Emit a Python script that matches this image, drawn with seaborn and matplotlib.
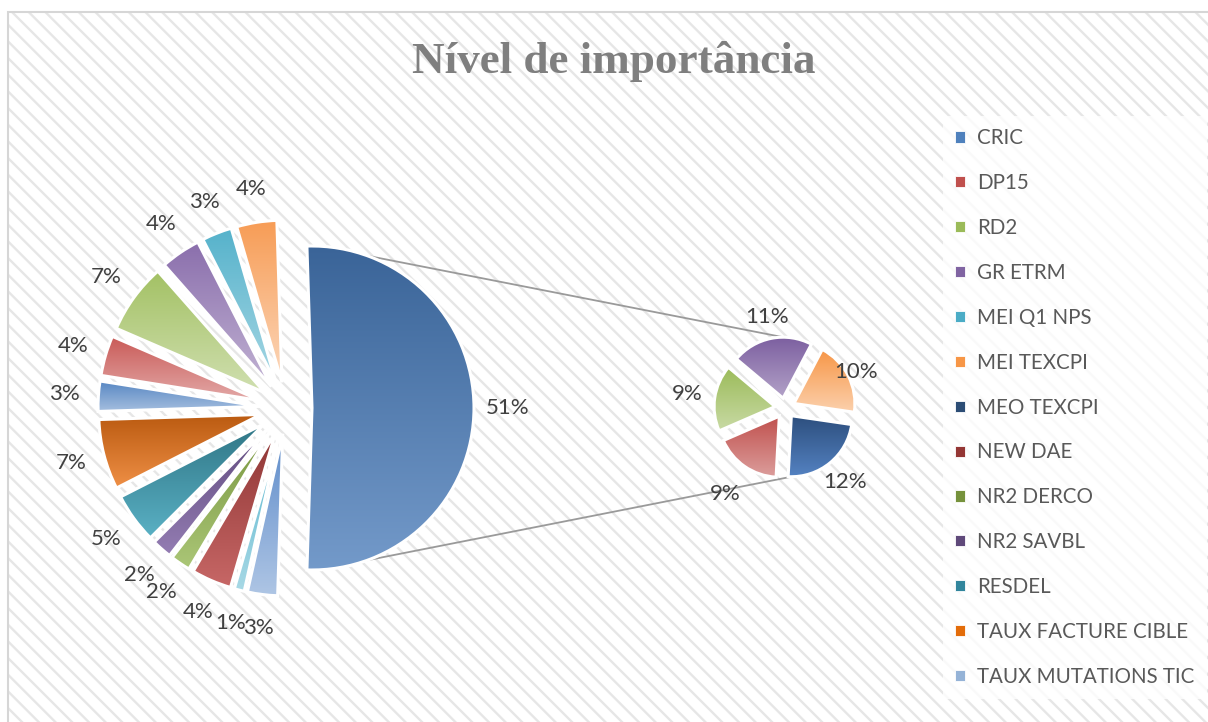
import numpy as np
import colorsys
import matplotlib
matplotlib.use("Agg")
import matplotlib.pyplot as plt
import seaborn as sns
from matplotlib.patches import Rectangle, Patch
from matplotlib.colors import to_rgb

# ---------------- data ----------------
title = "Nível de importância"
legend_labels = ["CRIC", "DP15", "RD2", "GR ETRM", "MEI Q1 NPS", "MEI TEXCPI",
                 "MEO TEXCPI", "NEW DAE", "NR2 DERCO", "NR2 SAVBL", "RESDEL",
                 "TAUX FACTURE CIBLE", "TAUX MUTATIONS TIC"]
legend_colors = ["#4F81BD", "#C0504D", "#9BBB59", "#8064A2", "#4BACC6", "#F79646",
                 "#2C4D75", "#943634", "#76923C", "#5F497A", "#31859C",
                 "#E36C09", "#95B3D7"]

# main pie, clockwise starting at CRIC; the 51% slice is split into the second pie
main_values = [3, 4, 7, 4, 3, 4, 51, 3, 1, 4, 2, 2, 5, 7]
main_colors = ["#5585C2", "#C95A57", "#A3C164", "#8A6EAC", "#55B2CB", "#F79C55",
               "#3A6498", "#5E8CCA", "#55B4CD", "#8E3534", "#77953E", "#5F497D",
               "#2F7585", "#BA5A10"]
other_index = 6

# secondary pie, counter-clockwise starting at the bottom
sec_values = [12, 10, 11, 9, 9]
sec_colors = ["#2D4F7E", "#F79646", "#7C5FA0", "#9BBB59", "#C0504D"]

# label distances (styling) for the secondary pie
sec_label_dist = [1.40, 1.15, 1.36, 1.46, 1.55]
connector_angle = 70  # where the connector lines leave the grouped slice (deg)

# ---------------- style ----------------
sns.set_theme(style="white")
plt.rcParams["font.family"] = ["Lato", "DejaVu Sans"]
plt.rcParams["hatch.linewidth"] = 1.7

W, H = 1208, 722
fig = plt.figure(figsize=(W / 100, H / 100), dpi=100)
ax = fig.add_axes([0, 0, 1, 1])
fig.patch.set_facecolor("white")

# chart area with diagonal pattern
ax.add_patch(Rectangle((8, -20), W + 40, H - 12 + 20, facecolor="white",
                       edgecolor="#e6e6e6", hatch="\\\\", linewidth=0, zorder=0))
ax.add_patch(Rectangle((8, -20), W + 40, H - 12 + 20, facecolor="none",
                       edgecolor="#d6d6d6", linewidth=1.5, zorder=0.5))


def gradient_fill(wedge, base):
    top = np.array(to_rgb(base))
    h, l, s = colorsys.rgb_to_hls(*top)
    bot = np.array(colorsys.hls_to_rgb(h, min(l + 0.21, 0.88), s))
    bb = wedge.get_path().get_extents()
    t = np.linspace(0, 1, 256)[:, None, None]
    img = (1 - t) * top + t * bot
    im = ax.imshow(img, extent=(bb.x0, bb.x1, bb.y0, bb.y1), origin="upper",
                   aspect="auto", interpolation="bilinear", zorder=2)
    im.set_clip_path(wedge)
    wedge.set_facecolor("none")
    wedge.set_zorder(3)


label_style = dict(fontsize=16, color="#404040")

# main pie
main_r = 162
main_center = (286, H - 408)
main_total = sum(main_values)
wedges, _, autotexts = ax.pie(
    main_values, colors=main_colors, startangle=181.8, counterclock=False,
    explode=[26] * len(main_values), radius=main_r, center=main_center,
    autopct=lambda p: f"{p * main_total / 100:.0f}%", pctdistance=1.21,
    wedgeprops=dict(edgecolor="white", linewidth=2.2), textprops=label_style,
    frame=True)
for w, c in zip(wedges, main_colors):
    gradient_fill(w, c)

# secondary pie
sec_r = 61
sec_center = (785, H - 408)
wedges2, _, autotexts2 = ax.pie(
    sec_values, colors=sec_colors, startangle=-93, counterclock=True,
    explode=[10] * len(sec_values), radius=sec_r, center=sec_center,
    autopct=lambda p: f"{p * sum(sec_values) / 100:.0f}%", pctdistance=1.38,
    wedgeprops=dict(edgecolor="white", linewidth=2.2), textprops=label_style,
    frame=True)
for w, c, d, t in zip(wedges2, sec_colors, sec_label_dist, autotexts2):
    gradient_fill(w, c)
    mid = np.radians((w.theta1 + w.theta2) / 2)
    cx, cy = w.center
    t.set_position((cx + d * w.r * np.cos(mid), cy + d * w.r * np.sin(mid)))

# connector lines from the grouped slice to the secondary pie
ow = wedges[other_index]
ocx, ocy = ow.center
p_top = (ocx + ow.r * np.cos(np.radians(connector_angle)),
         ocy + ow.r * np.sin(np.radians(connector_angle)))
p_bot = (ocx + ow.r * np.cos(np.radians(-connector_angle)),
         ocy + ow.r * np.sin(np.radians(-connector_angle)))


def point_at(ws, ang):
    for w in ws:
        a1, a2 = w.theta1 % 360, w.theta2 % 360
        a = ang % 360
        inside = (a1 <= a <= a2) if a1 <= a2 else (a >= a1 or a <= a2)
        if inside:
            cx, cy = w.center
            return (cx + w.r * np.cos(np.radians(ang)), cy + w.r * np.sin(np.radians(ang)))


s_top = point_at(wedges2, 90)
s_bot = point_at(wedges2, 270)
ax.plot([p_top[0], s_top[0]], [p_top[1], s_top[1]], color="#9a9a9a", lw=1.3, zorder=1)
ax.plot([p_bot[0], s_bot[0]], [p_bot[1], s_bot[1]], color="#9a9a9a", lw=1.3, zorder=1)

# title
ax.text(614, H - 61, title, ha="center", va="center", fontsize=32.5,
        fontweight="bold", color="#7f7f7f", family=["Liberation Serif", "DejaVu Serif"])

# legend
handles = [Patch(facecolor=c, edgecolor="white", linewidth=0.6) for c in legend_colors]
leg = ax.legend(handles, legend_labels, loc="upper left", bbox_to_anchor=(943, H - 116),
                bbox_transform=ax.transData, borderaxespad=0, frameon=True,
                fancybox=False, fontsize=14.8, labelcolor="#595959",
                handlelength=0.45, handleheight=0.45, handletextpad=0.6,
                labelspacing=1.21, borderpad=0.6)
leg.get_frame().set_facecolor((1, 1, 1, 0.6))
leg.get_frame().set_edgecolor("none")
leg.set_zorder(4)

ax.set_xlim(0, W)
ax.set_ylim(0, H)
ax.set_aspect("auto")
ax.axis("off")
fig.savefig("out.png", dpi=100)
